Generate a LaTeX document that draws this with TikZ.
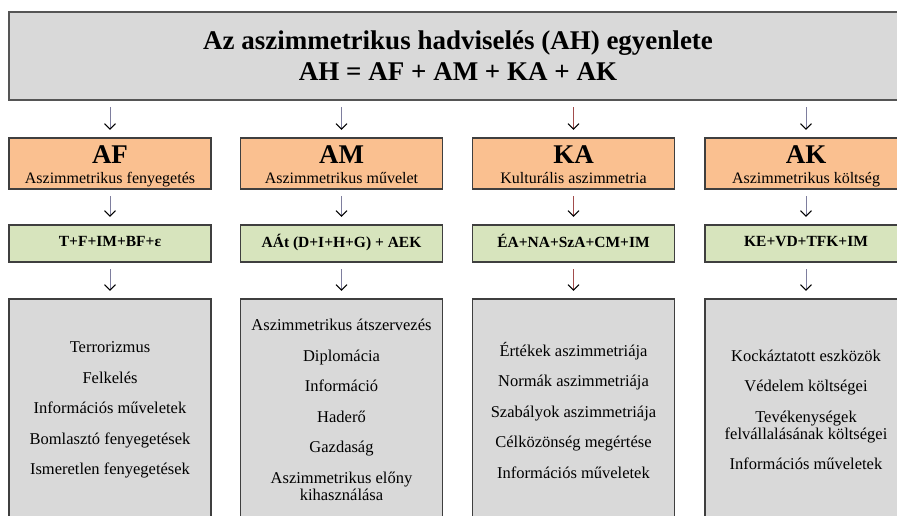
\documentclass[tikz,border=0pt]{standalone}
\usepackage{fontspec}
\setmainfont{Liberation Serif}
\usetikzlibrary{arrows.meta, positioning}

\definecolor{greyfill}{HTML}{D9D9D9}
\definecolor{headfill}{HTML}{FAC090}
\definecolor{formfill}{HTML}{D7E4BD}
\definecolor{boxline}{HTML}{3F3F3F}
\definecolor{titleline}{HTML}{555555}
\definecolor{arrowline}{HTML}{7E7E9E}
\definecolor{arrowred}{HTML}{A24C4C}

% text of a component box: big abbreviation, name below
\newcommand{\headlabel}[2]{\rule{0pt}{24pt}{\fontsize{27}{20}\selectfont\bfseries #1}\\#2\rule[-5pt]{0pt}{5pt}}

\begin{document}
\begin{tikzpicture}[
    x=1pt, y=-1pt,
    every node/.style={font=\fontsize{16.5}{17}\selectfont},
    box/.style={draw=boxline, line width=1.3pt, inner sep=0pt, align=center, minimum width=202pt},
    titlebox/.style={box, fill=greyfill, draw=titleline, line width=1.8pt, minimum width=898pt, minimum height=88pt, font=\fontsize{27}{31}\selectfont\bfseries},
    headbox/.style={box, fill=headfill, minimum height=51pt, font=\fontsize{16}{20}\selectfont},
    formbox/.style={box, fill=formfill, minimum height=37pt, font=\fontsize{15.5}{17}\selectfont\bfseries, execute at begin node={\rule[-4.5pt]{0pt}{15pt}}},
    listbox/.style={box, fill=greyfill, minimum height=222pt},
    arrow/.style={draw=arrowline, line width=0.9pt, -{Straight Barb[length=5.5pt, width=11pt, color=black, line width=1pt]}, shorten <=6.5pt, shorten >=7.5pt},
    redarrow/.style={arrow, draw=arrowred}
]
\useasboundingbox (0,0) rectangle (897,515);

% === EQUATION at top ===
\node[titlebox] (eq) at (458,56) {Az aszimmetrikus hadviselés (AH) egyenlete\\AH = AF + AM + KA + AK};

% === COMPONENTS (orange) ===

% AF
\node[headbox] (af) at (110,163.5) {\headlabel{AF}{Aszimmetrikus fenyegetés}};

% AM
\node[headbox] (am) at (341.5,163.5) {\headlabel{AM}{Aszimmetrikus művelet}};

% KA
\node[headbox] (ka) at (573.5,163.5) {\headlabel{KA}{Kulturális aszimmetria}};

% AK
\node[headbox] (ak) at (806,163.5) {\headlabel{AK}{Aszimmetrikus költség}};

% === FORMULAS (green) ===
\node[formbox] (afform) at (110,243.5) {T+F+IM+BF+ε};
\node[formbox] (amform) at (341.5,243.5) {AÁt (D+I+H+G) + AEK};
\node[formbox] (kaform) at (573.5,243.5) {ÉA+NA+SzA+CM+IM};
\node[formbox] (akform) at (806,243.5) {KE+VD+TFK+IM};

% === ELEMENTS (grey) ===
\node[listbox] (aflist) at (110,410) {Terrorizmus\\[13.5pt]Felkelés\\[13.5pt]Információs műveletek\\[13.5pt]Bomlasztó fenyegetések\\[13.5pt]Ismeretlen fenyegetések};

\node[listbox] (amlist) at (341.5,410) {Aszimmetrikus átszervezés\\[13.5pt]Diplomácia\\[13.5pt]Információ\\[13.5pt]Haderő\\[13.5pt]Gazdaság\\[13.5pt]Aszimmetrikus előny\\kihasználása};

\node[listbox] (kalist) at (573.5,410) {Értékek aszimmetriája\\[13.5pt]Normák aszimmetriája\\[13.5pt]Szabályok aszimmetriája\\[13.5pt]Célközönség megértése\\[13.5pt]Információs műveletek};

\node[listbox] (aklist) at (806,410) {Kockáztatott eszközök\\[13.5pt]Védelem költségei\\[13.5pt]Tevékenységek\\felvállalásának költségei\\[13.5pt]Információs műveletek};

% === ARROWS ===

% equation -> components
\draw[arrow] (eq.south -| af.north) -- (af.north);
\draw[arrow] (eq.south -| am.north) -- (am.north);
\draw[redarrow] (eq.south -| ka.north) -- (ka.north);
\draw[arrow] (eq.south -| ak.north) -- (ak.north);

% components -> formulas
\draw[arrow] (af) -- (afform);
\draw[arrow] (am) -- (amform);
\draw[redarrow] (ka) -- (kaform);
\draw[arrow] (ak) -- (akform);

% formulas -> elements
\draw[arrow] (afform) -- (aflist);
\draw[arrow] (amform) -- (amlist);
\draw[redarrow] (kaform) -- (kalist);
\draw[arrow] (akform) -- (aklist);

\end{tikzpicture}
\end{document}
